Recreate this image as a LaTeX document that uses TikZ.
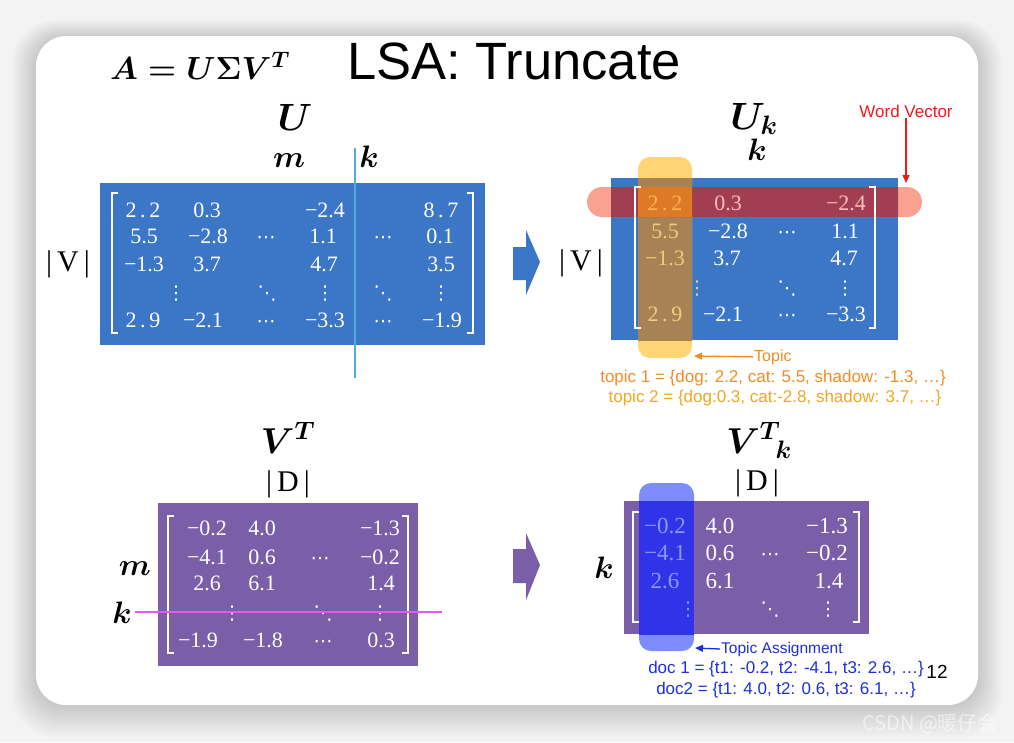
\RequirePackage{fix-cm}
\documentclass[tikz,border=0pt]{standalone}
\usepackage{graphicx}
\usepackage{fontspec}
\setmainfont{Liberation Serif}
\newfontfamily\sansf{Liberation Sans}
\newfontfamily\dejavu{DejaVu Sans}
\newfontfamily\cjkf{Noto Sans CJK SC}
\usetikzlibrary{arrows.meta}
\definecolor{bgc}{RGB}{243,243,243}
\definecolor{ublue}{RGB}{60,118,198}
\definecolor{vpurple}{RGB}{123,94,168}
\definecolor{cyanln}{RGB}{85,172,210}
\definecolor{magln}{RGB}{225,90,235}
\definecolor{ylight}{RGB}{255,213,118}
\definecolor{ybrown}{RGB}{166,130,84}
\definecolor{rlight}{RGB}{250,162,145}
\definecolor{rdark}{RGB}{162,62,82}
\definecolor{orng}{RGB}{222,122,38}
\definecolor{bllight}{RGB}{125,140,255}
\definecolor{bldark}{RGB}{48,52,232}
\definecolor{toporange}{RGB}{240,140,40}
\definecolor{topyellow}{RGB}{236,168,32}
\definecolor{wordred}{RGB}{232,30,30}
\definecolor{asgblue}{RGB}{28,48,215}
\definecolor{coltxt}{RGB}{246,202,122}
\definecolor{row1a}{RGB}{255,178,80}
\definecolor{row1b}{RGB}{255,188,188}
\definecolor{lbtxt}{RGB}{135,152,255}
\tikzset{
  num/.style={font=\fontsize{22}{22}\selectfont, text=white, inner sep=0pt, anchor=base},
  numk/.style={num, font=\fontsize{23}{23}\selectfont},
  dts/.style={num, font=\dejavu\fontsize{19}{19}\selectfont},
  brk/.style={draw=white, line width=1.4pt},
  mlabel/.style={font=\fontsize{31}{31}\selectfont\boldmath, anchor=base, inner sep=0pt},
  biglabel/.style={font=\fontsize{38}{38}\selectfont\boldmath, anchor=base, inner sep=0pt},
  barlabel/.style={font=\fontsize{30}{30}\selectfont, anchor=base, inner sep=0pt},
  note/.style={font=\sansf\fontsize{17}{17}\selectfont, anchor=base, inner sep=1pt},
  tipline/.style={line width=1.3pt, -{Triangle[length=8pt,width=7pt]}},
}
\begin{document}
\begin{tikzpicture}[x=1pt,y=-1pt]
\useasboundingbox (0,0) rectangle (1014,742);
% background and card shadow
\fill[bgc] (0,0) rectangle (1014,742);
\foreach \i in {1,...,14} {
  \fill[black, opacity=0.011, rounded corners={30+\i}] ({36-\i*1.7},{36-\i*1.3+2}) rectangle ({978+\i*1.7},{705+\i*2.3});
}
\fill[white, rounded corners=30] (36,36) rectangle (978,705);
\node[font=\cjkf\fontsize{20}{20}\selectfont, text=white, opacity=0.55, anchor=base west, inner sep=0pt] (wm) at (862,730) {CSDN @暖仔会};

% title
\node[font=\fontsize{32}{32}\selectfont\boldmath, anchor=base, inner sep=0pt] (formula) at (200,79) {$A=U\Sigma V^T$};
\node[font=\sansf\fontsize{52.5}{52.5}\selectfont, anchor=base, inner sep=0pt] (title) at (514,79) {LSA: Truncate};

% ---------- U ----------
\node[biglabel] (Ulab) at (295,130) {$U$};
\node[mlabel] (Um) at (289,167) {$m$};
\node[mlabel] (Uk) at (369,167) {$k$};
\node[barlabel] (UV) at (68,271) {|\hspace{5pt}V\hspace{5pt}|};
\fill[ublue] (100,183) rectangle (485,345);
\draw[brk] (118,193) -| (112,333) -- (118,333);
\draw[brk] (467,193) -| (473,333) -- (467,333);
\node[num] (u11) at (143,217) {2\,.\,2};
\node[num] (u12) at (207,217) {0.3};
\node[num] (u14) at (325,217) {−2.4};
\node[num] (u16) at (441,217) {8\,.\,7};
\node[num] (u21) at (144,243) {5.5};
\node[num] (u22) at (208,243) {−2.8};
\node[dts] (u23) at (266,243) {⋯};
\node[num] (u24) at (323,243) {1.1};
\node[dts] (u25) at (383,243) {⋯};
\node[num] (u26) at (440,243) {0.1};
\node[num] (u31) at (144,271) {−1.3};
\node[num] (u32) at (207,271) {3.7};
\node[num] (u34) at (324,271) {4.7};
\node[num] (u36) at (441,271) {3.5};
\node[dts] (u41) at (176,299) {⋮};
\node[dts] (u43) at (267,299) {⋱};
\node[dts] (u44) at (325,299) {⋮};
\node[dts] (u45) at (383,299) {⋱};
\node[dts] (u46) at (441,299) {⋮};
\node[num] (u51) at (143,327) {2\,.\,9};
\node[num] (u52) at (203,327) {−2.1};
\node[dts] (u53) at (266,327) {⋯};
\node[num] (u54) at (325,327) {−3.3};
\node[dts] (u55) at (383,327) {⋯};
\node[num] (u56) at (442,327) {−1.9};
\coordinate (cutT) at (355,148);
\coordinate (cutB) at (355,378);
\draw[cyanln, line width=1.6pt] (cutT) -- (cutB);

% arrows
\fill[ublue] (513,247) -- (526,247) -- (526,230) -- (540,262) -- (526,295) -- (526,280) -- (513,280) -- cycle;
\fill[vpurple] (513,549) -- (526,549) -- (526,533) -- (540,565) -- (526,600) -- (526,583) -- (513,583) -- cycle;

% ---------- U_k ----------
\node[biglabel] (Uklab) at (754,129) {$U_k$};
\node[mlabel] (Ukk) at (757,160) {$k$};
\node[barlabel] (UkV) at (581,270) {|\hspace{5pt}V\hspace{5pt}|};
\fill[ublue] (611,178) rectangle (898,340);
\fill[ylight, rounded corners=12] (638,157) rectangle (692,358);
\fill[rlight, rounded corners=15] (587,187) rectangle (922,217);
\begin{scope}
  \clip (611,178) rectangle (898,340);
  \fill[ybrown, rounded corners=12] (638,157) rectangle (692,358);
  \fill[rdark, rounded corners=15] (587,187) rectangle (922,217);
  \clip (638,157) rectangle (692,358);
  \fill[orng] (587,187) rectangle (922,217);
\end{scope}
\draw[brk] (641,187) -| (635,328) -- (641,328);
\draw[brk] (869,187) -| (875,328) -- (869,328);
\node[num, text=row1a] (k11) at (665,210) {2\,.\,2};
\node[num, text=row1b] (k12) at (728,210) {0.3};
\node[num, text=row1b] (k14) at (846,210) {−2.4};
\node[num, text=coltxt] (k21) at (665,238) {5.5};
\node[num] (k22) at (728,238) {−2.8};
\node[dts] (k23) at (787,238) {⋯};
\node[num] (k24) at (845,238) {1.1};
\node[num, text=coltxt] (k31) at (665,265) {−1.3};
\node[num] (k32) at (727,265) {3.7};
\node[num] (k34) at (844,265) {4.7};
\node[dts, text=coltxt] (k41) at (697,294) {⋮};
\node[dts] (k43) at (787,294) {⋱};
\node[dts] (k44) at (845,294) {⋮};
\node[num, text=coltxt] (k51) at (665,321) {2\,.\,9};
\node[num] (k52) at (723,321) {−2.1};
\node[dts] (k53) at (787,321) {⋯};
\node[num] (k54) at (846,321) {−3.3};

\node[note, text=wordred] (wv) at (906,117) {Word Vector};
\coordinate (wvtip) at (906,183);
\draw[tipline, draw=wordred, fill=wordred] (wv.south) -- (wvtip);
\node[note, text=toporange, anchor=base west, font=\sansf\fontsize{16}{16}\selectfont] (topic) at (753,361) {Topic};
\coordinate (toptip) at (694,356);
\draw[tipline, draw=toporange, fill=toporange] (topic.west) -- (toptip);
\node[note, text=toporange] (t1) at (773,382) {topic 1 = \{dog: 2.2, cat: 5.5, shadow: -1.3, …\}};
\node[note, text=topyellow] (t2) at (775,402) {topic 2 = \{dog:0.3, cat:-2.8, shadow: 3.7, …\}};

% ---------- V^T ----------
\node[biglabel, font=\fontsize{36}{36}\selectfont\boldmath] (VTlab) at (288,453) {$V^T$};
\node[barlabel] (VTD) at (288,491) {|\hspace{5pt}D\hspace{5pt}|};
\node[mlabel] (VTm) at (135,575) {$m$};
\node[mlabel] (VTk) at (122,623) {$k$};
\fill[vpurple] (158,503) rectangle (418,666);
\draw[brk] (174,516) -| (168,653) -- (174,653);
\draw[brk] (402,516) -| (408,653) -- (402,653);
\node[num] (v11) at (207,535) {−0.2};
\node[num] (v12) at (262,535) {4.0};
\node[num] (v14) at (380,535) {−1.3};
\node[num] (v21) at (207,564) {−4.1};
\node[num] (v22) at (262,564) {0.6};
\node[dts] (v23) at (320,564) {⋯};
\node[num] (v24) at (380,564) {−0.2};
\node[num] (v31) at (207,590) {2.6};
\node[num] (v32) at (262,590) {6.1};
\node[num] (v34) at (381,590) {1.4};
\node[dts] (v41) at (232,619) {⋮};
\node[dts] (v43) at (323,619) {⋱};
\node[dts] (v44) at (380,619) {⋮};
\node[num] (v51) at (198,647) {−1.9};
\node[num] (v52) at (263,647) {−1.8};
\node[dts] (v53) at (323,647) {⋯};
\node[num] (v54) at (381,647) {0.3};
\coordinate (cutL) at (135,612);
\coordinate (cutR) at (442,612);
\draw[magln, line width=1.6pt] (cutL) -- (cutR);

% ---------- V^T_k ----------
\node[biglabel, font=\fontsize{36}{36}\selectfont\boldmath] (VTklab) at (759,453) {${V^T}_{\!k}$};
\node[barlabel] (VTkD) at (757,490) {|\hspace{5pt}D\hspace{5pt}|};
\node[mlabel] (VTkk) at (604,578) {$k$};
\fill[vpurple] (624,501) rectangle (869,634);
\fill[bllight, rounded corners=12] (639,483) rectangle (694,651);
\begin{scope}
  \clip (624,501) rectangle (869,634);
  \fill[bldark] (639,483) rectangle (694,651);
\end{scope}
\draw[brk] (639,512) -| (633,622) -- (639,622);
\draw[brk] (853,512) -| (859,622) -- (853,622);
\node[numk, text=lbtxt] (w11) at (665,533) {−0.2};
\node[numk] (w12) at (720,533) {4.0};
\node[numk] (w14) at (827,533) {−1.3};
\node[numk, text=lbtxt] (w21) at (665,560) {−4.1};
\node[numk] (w22) at (720,560) {0.6};
\node[dts] (w23) at (770,560) {⋯};
\node[numk] (w24) at (827,560) {−0.2};
\node[numk, text=lbtxt] (w31) at (665,588) {2.6};
\node[numk] (w32) at (720,588) {6.1};
\node[numk] (w34) at (829,588) {1.4};
\node[dts, text=lbtxt] (w41) at (688,615) {⋮};
\node[dts] (w43) at (770,615) {⋱};
\node[dts] (w44) at (828,615) {⋮};

\node[note, text=asgblue, anchor=base west, font=\sansf\fontsize{15.5}{15.5}\selectfont] (ta) at (720,653) {Topic Assignment};
\coordinate (tatip) at (695,648);
\draw[tipline, draw=asgblue, fill=asgblue] (ta.west) -- (tatip);
\node[note, text=asgblue] (d1) at (786,673) {doc 1 = \{t1: -0.2, t2: -4.1, t3: 2.6, …\}};
\node[note, text=asgblue] (d2) at (786,694) {doc2 = \{t1: 4.0, t2: 0.6, t3: 6.1, …\}};
\node[note, font=\sansf\fontsize{19}{19}\selectfont] (pg) at (937,678) {12};
\end{tikzpicture}
\end{document}
